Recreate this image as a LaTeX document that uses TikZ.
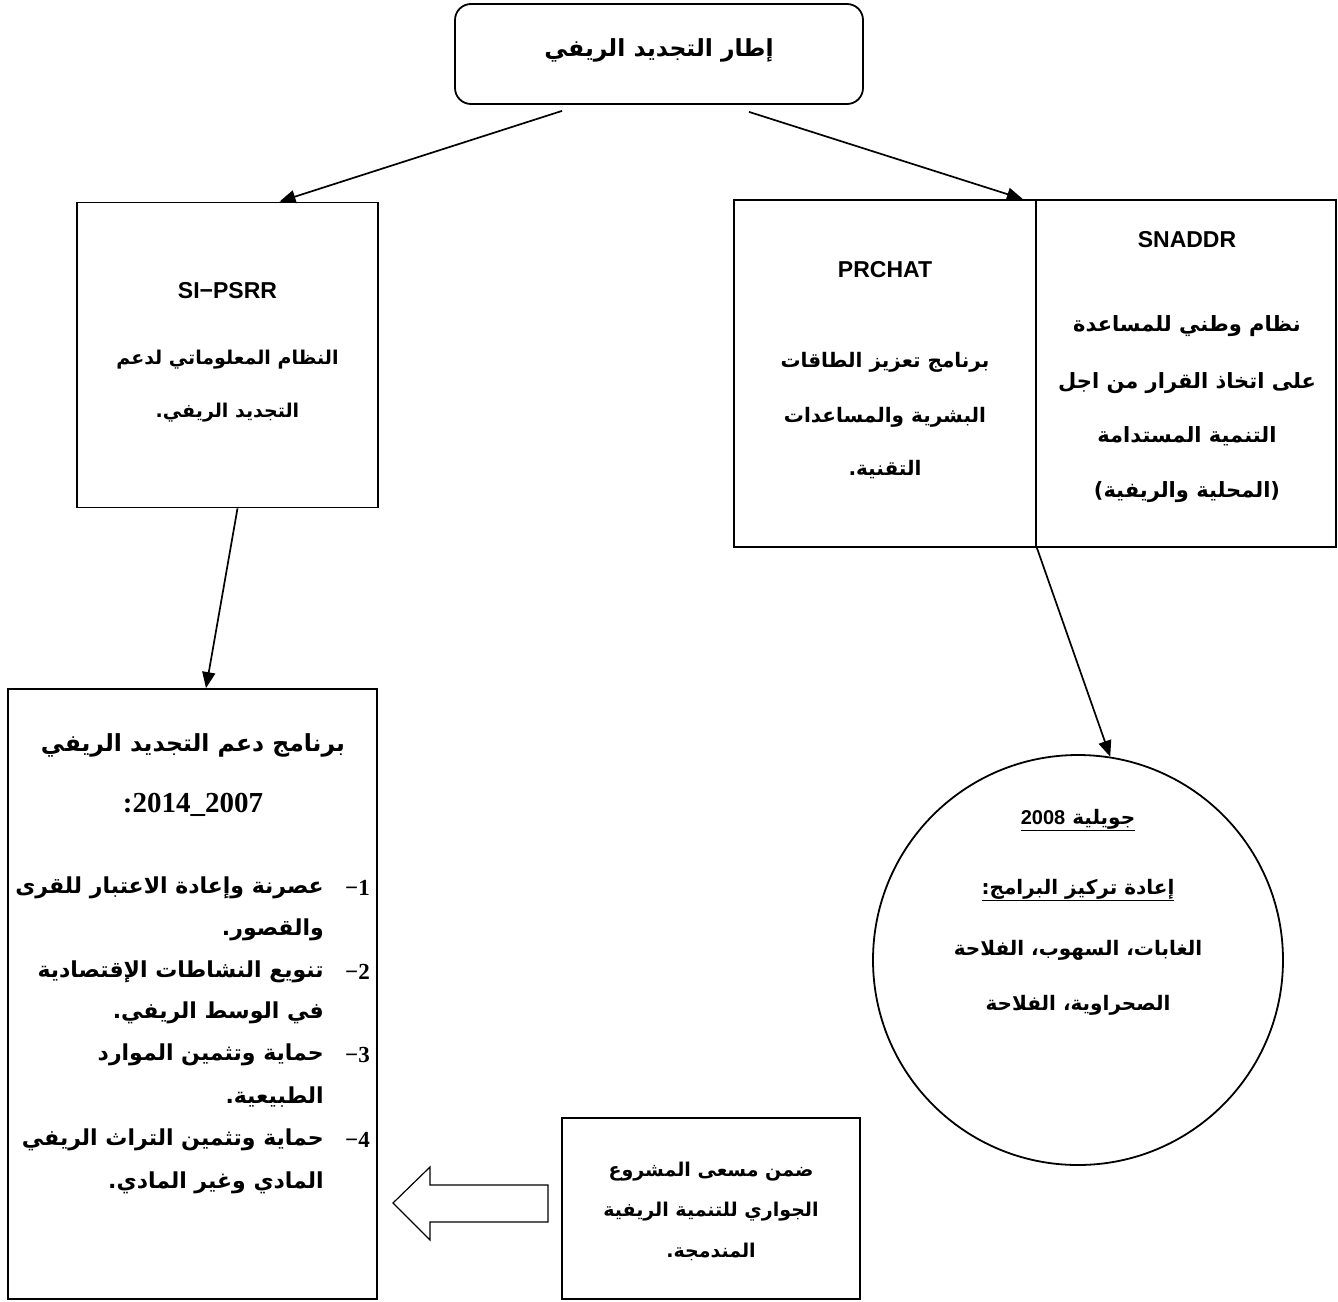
\documentclass[tikz,border=0pt]{standalone}
\usepackage{fontspec}
\setmainfont{Liberation Sans}
\newfontfamily\arfont[Script=Arabic]{DejaVu Sans}
\newfontfamily\timesfont{Liberation Serif}
\TeXXeTstate=1
\usetikzlibrary{arrows.meta}
\newcommand\AR[1]{\beginR#1\endR}
\newcommand\arsize[1]{\arfont\bfseries\fontsize{#1}{#1}\selectfont}
\begin{document}
\begin{tikzpicture}[x=1pt,y=-1pt,
  box/.style={draw, line width=1.8pt, inner sep=0pt},
  conn/.style={line width=1.7pt, -{Triangle[length=16pt,width=13pt]}},
  art/.style={font=\arsize{19}, inner sep=0pt},
  lat/.style={font=\bfseries\fontsize{23}{26}\selectfont, inner sep=0pt},
  num/.style={font=\timesfont\bfseries\fontsize{23}{26}\selectfont, inner sep=0pt, anchor=east},
  item/.style={font=\arsize{22}, inner sep=0pt, anchor=east}
]
\useasboundingbox (0,0) rectangle (1338,1301);

% top
\node[box, rounded corners=16pt, minimum width=408pt, minimum height=100pt] (top) at (659,54) {};
\node[font=\arsize{23.5}, inner sep=0pt] (toptxt) at (659,50) {\AR{إطار التجديد الريفي}};

% SI-PSRR
\node[box, minimum width=301pt, minimum height=305pt] (si) at (227.5,355) {};
\node[lat] (silat) at (227.5,291) {SI−PSRR};
\node[art] (si1) at (227.5,360) {\AR{النظام المعلوماتي لدعم}};
\node[art] (si2) at (227.5,413) {\AR{التجديد الريفي.}};

% PRCHAT
\node[box, minimum width=302pt, minimum height=347pt] (pr) at (885,373.5) {};
\node[lat] (prlat) at (885,270) {PRCHAT};
\node[art, font=\arsize{20}] (pr1) at (885,362) {\AR{برنامج تعزيز  الطاقات}};
\node[art, font=\arsize{20}] (pr2) at (885,417) {\AR{البشرية والمساعدات}};
\node[art, font=\arsize{20}] (pr3) at (885,470) {\AR{التقنية.}};

% SNADDR
\node[box, minimum width=300pt, minimum height=347pt] (sn) at (1186,373.5) {};
\node[lat] (snlat) at (1187,240) {SNADDR};
\node[art, font=\arsize{21}] (sn1) at (1187,326) {\AR{نظام وطني للمساعدة}};
\node[art, font=\arsize{21}] (sn2) at (1187,383) {\AR{على اتخاذ القرار من اجل}};
\node[art, font=\arsize{21}] (sn3) at (1187,436) {\AR{التنمية المستدامة}};
\node[art, font=\arsize{21}] (sn4) at (1187,492) {\AR{(المحلية والريفية)}};

% bottom left
\node[box, minimum width=369pt, minimum height=610pt] (bl) at (192.5,994) {};
\node[font=\arsize{23.5}, inner sep=0pt] (blt1) at (193,745) {\AR{برنامج دعم التجديد الريفي}};
\node[font=\timesfont\bfseries\fontsize{29}{32}\selectfont, inner sep=0pt] (blt2) at (193,805) {:2014\_2007};
\node[num] (n1) at (370,888) {−1};
\node[item] (i1a) at (324,888) {\AR{عصرنة وإعادة الاعتبار للقرى}};
\node[item] (i1b) at (324,930) {\AR{والقصور.}};
\node[num] (n2) at (370,972) {−2};
\node[item] (i2a) at (324,972) {\AR{تنويع النشاطات الإقتصادية}};
\node[item] (i2b) at (324,1013) {\AR{في الوسط الريفي.}};
\node[num] (n3) at (370,1055) {−3};
\node[item] (i3a) at (324,1055) {\AR{حماية وتثمين الموارد}};
\node[item] (i3b) at (324,1097) {\AR{الطبيعية.}};
\node[num] (n4) at (370,1140) {−4};
\node[item] (i4a) at (324,1140) {\AR{حماية وتثمين التراث الريفي}};
\node[item] (i4b) at (324,1183) {\AR{المادي وغير المادي.}};

% circle
\node[box, circle, minimum size=410pt] (circ) at (1078,960) {};
\node[art, font=\arsize{20}] (c1) at (1078,820) {$\underline{\hbox{\AR{جويلية \beginL{\rmfamily\bfseries 2008}\endL}}}$};
\node[art, font=\arsize{20}] (c2) at (1078,890) {$\underline{\hbox{\AR{إعادة تركيز  البرامج:}}}$};
\node[art, font=\arsize{20}] (c3) at (1078,950) {\AR{الغابات، السهوب، الفلاحة}};
\node[art, font=\arsize{20}] (c4) at (1078,1005) {\AR{الصحراوية، الفلاحة}};

% middle box
\node[box, minimum width=298pt, minimum height=181pt] (mid) at (711,1208.5) {};
\node[art] (m1) at (711,1172) {\AR{ضمن مسعى المشروع}};
\node[art] (m2) at (711,1212) {\AR{الجواري للتنمية الريفية}};
\node[art] (m3) at (711,1252) {\AR{المندمجة.}};

% block arrow
\draw[line width=1.2pt] (548,1185) -- (430,1185) -- (430,1167) -- (393,1203) -- (430,1240) -- (430,1222) -- (548,1222) -- cycle;

% connectors
\draw[conn] ([shift={(-97,6)}]top.south) -- ([shift={(52,0)}]si.north);
\draw[conn] ([shift={(90,7)}]top.south) -- ([shift={(-14,0)}]pr.north east);
\draw[conn] ([shift={(10,0)}]si.south) -- ([shift={(13.5,0)}]bl.north);
\draw[conn] (pr.south east) -- (circ.81);
\end{tikzpicture}
\end{document}
